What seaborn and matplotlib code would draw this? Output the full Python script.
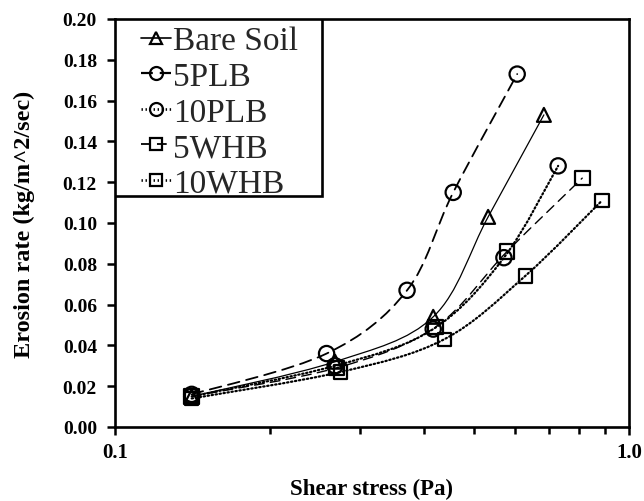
import numpy as np
import pandas as pd
import seaborn as sns
import matplotlib
matplotlib.use("Agg")
import matplotlib.pyplot as plt
from matplotlib.path import Path
from matplotlib.patches import PathPatch, Rectangle
from matplotlib.lines import Line2D
from matplotlib.ticker import FixedLocator, NullFormatter, FixedFormatter

# ---- data ----
series_names = ["Bare Soil", "5PLB", "10PLB", "5WHB", "10WHB"]
bare_x = [0.141, 0.268, 0.416, 0.532, 0.683]
bare_y = [0.015, 0.032, 0.054, 0.103, 0.153]
plb5_x = [0.141, 0.258, 0.370, 0.455, 0.606]
plb5_y = [0.016, 0.036, 0.067, 0.115, 0.173]
plb10_x = [0.141, 0.268, 0.416, 0.571, 0.728]
plb10_y = [0.015, 0.030, 0.048, 0.083, 0.128]
whb5_x = [0.141, 0.270, 0.420, 0.579, 0.811]
whb5_y = [0.015, 0.029, 0.049, 0.086, 0.122]
whb10_x = [0.141, 0.275, 0.437, 0.628, 0.886]
whb10_y = [0.014, 0.027, 0.043, 0.074, 0.111]

y_ticks = [0.00, 0.02, 0.04, 0.06, 0.08, 0.10, 0.12, 0.14, 0.16, 0.18, 0.20]
x_major = [0.1, 1.0]
x_major_labels = ["0.1", "1.0"]
x_minor = [0.2, 0.3, 0.4, 0.5, 0.6, 0.7, 0.8, 0.9]

xs = [bare_x, plb5_x, plb10_x, whb5_x, whb10_x]
ys = [bare_y, plb5_y, plb10_y, whb5_y, whb10_y]

rows = []
for name, x, y in zip(series_names, xs, ys):
    for a, b in zip(x, y):
        rows.append({"series": name, "stress": a, "rate": b})
df = pd.DataFrame(rows)

# ---- styles ----
sns.set_theme(style="white")
plt.rcParams['font.family'] = ['Liberation Serif', 'DejaVu Serif']
plt.rcParams['lines.scale_dashes'] = False

markers = {"Bare Soil": "^", "5PLB": "o", "10PLB": "o", "5WHB": "s", "10WHB": "s"}
msize = {"Bare Soil": 10, "5PLB": 11, "10PLB": 11, "5WHB": 10.5, "10WHB": 9.5}
dots = (0, (1.0, 1.9))
lstyles = {"Bare Soil": "solid", "5PLB": (0, (8.5, 5.0)), "10PLB": dots,
           "5WHB": (0, (7.0, 4.5)), "10WHB": dots}
lwidths = {"Bare Soil": 0.9, "5PLB": 1.3, "10PLB": 1.6, "5WHB": 1.0, "10WHB": 1.6}

fig = plt.figure(figsize=(6.44, 5.02), dpi=100)
ax = fig.add_axes([115 / 644, 1 - 428 / 502, 514 / 644, 408 / 502])
ax.set_xscale("log")


def smooth_path(x, y):
    # Bezier (Catmull-Rom style) smoothing in display-linear space (log10 x, y)
    lx = np.log10(np.asarray(x, float))
    yy = np.asarray(y, float)
    P = np.column_stack([lx, yy])
    n = len(P)
    verts = [P[0]]
    codes = [Path.MOVETO]
    for i in range(n - 1):
        p0 = P[i - 1] if i > 0 else P[i]
        p1 = P[i]
        p2 = P[i + 1]
        p3 = P[i + 2] if i + 2 < n else P[i + 1]
        c1 = p1 + (p2 - p0) / 6.0
        c2 = p2 - (p3 - p1) / 6.0
        verts += [c1, c2, p2]
        codes += [Path.CURVE4] * 3
    verts = np.array(verts)
    verts[:, 0] = 10 ** verts[:, 0]
    return Path(verts, codes)


for name in series_names:
    sub = df[df.series == name]
    patch = PathPatch(smooth_path(sub.stress.values, sub.rate.values), fill=False,
                      edgecolor="black", linewidth=lwidths[name],
                      linestyle=lstyles[name], capstyle="round", zorder=2)
    ax.add_patch(patch)
    sns.scatterplot(data=sub, x="stress", y="rate", marker=markers[name],
                    s=msize[name] ** 2, facecolors="none", edgecolor="black",
                    linewidth=1.6, ax=ax, legend=False, zorder=3)

ax.set_xlim(0.1, 1.0)
ax.set_ylim(0.0, 0.2)
ax.xaxis.set_major_locator(FixedLocator(x_major))
ax.xaxis.set_major_formatter(FixedFormatter(x_major_labels))
ax.xaxis.set_minor_locator(FixedLocator(x_minor))
ax.xaxis.set_minor_formatter(NullFormatter())
ax.yaxis.set_major_locator(FixedLocator(y_ticks))
ax.set_yticklabels([f"{v:.2f}" for v in y_ticks])

for sp in ax.spines.values():
    sp.set_visible(True)
    sp.set_color("black")
    sp.set_linewidth(1.9)

ax.tick_params(axis="both", which="both", direction="out", color="black",
               bottom=True, left=True, top=False, right=False)
ax.tick_params(axis="x", which="major", length=6, width=1.8, pad=5)
ax.tick_params(axis="x", which="minor", length=5, width=1.8)
ax.tick_params(axis="y", which="major", length=6, width=1.8, pad=7)
for lab in ax.get_yticklabels():
    lab.set_fontsize(14)
    lab.set_fontweight("bold")
    lab.set_color("black")
for lab in ax.get_xticklabels():
    lab.set_fontsize(15)
    lab.set_fontweight("bold")
    lab.set_color("black")

ax.set_xlabel("Shear stress (Pa)", fontsize=16.5, fontweight="bold", color="black", labelpad=11)
ax.set_ylabel("Erosion rate (kg/m^2/sec)", fontsize=17.5, fontweight="bold", color="black", labelpad=20)

# ---- legend ----
handles = []
for name in series_names:
    handles.append(Line2D([], [], color="black", linestyle=lstyles[name],
                          linewidth=lwidths[name] + 0.3, marker=markers[name],
                          markersize=msize[name] * 0.85, markerfacecolor="none",
                          markeredgecolor="black", markeredgewidth=1.6))
frame = Rectangle((0, (428 - 197) / 408), (322 - 115) / 514, 1 - (428 - 197) / 408,
                  transform=ax.transAxes, facecolor="white", edgecolor="black",
                  linewidth=1.9, zorder=4)
ax.add_patch(frame)
leg = ax.legend(handles, series_names, loc="upper left",
                bbox_to_anchor=((141 - 115) / 514, (428 - 27) / 408), frameon=False,
                fontsize=24, handlelength=0.9, handletextpad=0.05,
                labelspacing=0.15, borderpad=0.0, borderaxespad=0.0)
leg.set_zorder(5)

fig.savefig("out.png", dpi=100)
